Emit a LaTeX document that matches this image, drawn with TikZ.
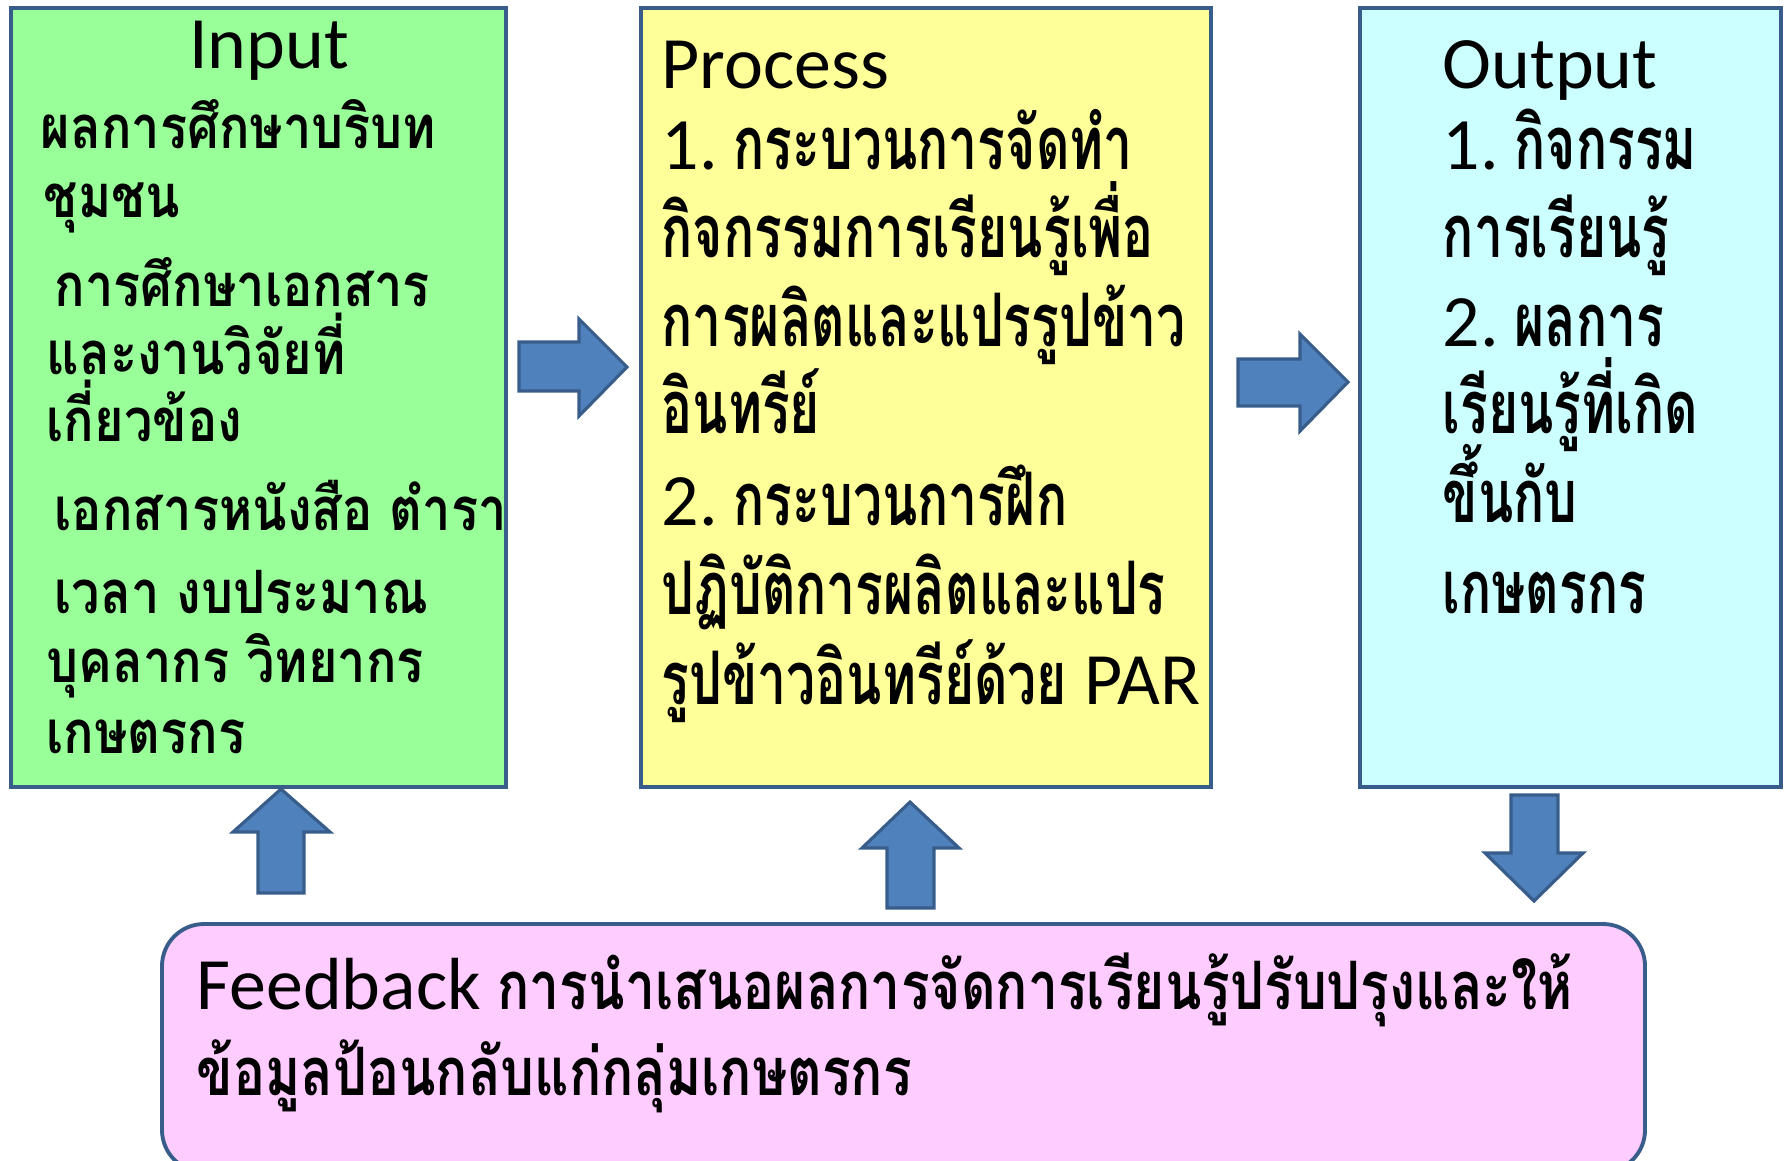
\documentclass[tikz,border=0pt]{standalone}
\usepackage{fontspec}
\setmainfont{Carlito}
\newfontfamily\thai[Script=Thai,FakeStretch=0.845]{Loma}
\newfontfamily\thaic[Script=Thai,FakeStretch=0.7]{Loma}
\newfontfamily\thaif[Script=Thai,FakeStretch=0.8]{Loma}
\definecolor{ingreen}{HTML}{99FF99}
\definecolor{procyellow}{HTML}{FFFF99}
\definecolor{outcyan}{HTML}{CCFFFF}
\definecolor{fbpink}{HTML}{FFCCFF}
\definecolor{boxline}{HTML}{385D8A}
\definecolor{arrowblue}{HTML}{4F81BD}
\tikzset{
  box/.style={draw=boxline, line width=1.1pt},
  blkarrow/.style={draw=boxline, fill=arrowblue, line width=0.9pt, line join=miter},
  title/.style={anchor=base west, inner sep=0pt, font=\fontsize{21}{24}\selectfont},
  body/.style={anchor=base west, inner sep=0pt},
  wide/.style={body, font=\thai\bfseries\fontsize{17}{20}\selectfont},
  narrow/.style={body, font=\thaic\bfseries\fontsize{21}{24}\selectfont},
}
\begin{document}
\begin{tikzpicture}[x=0.01cm, y=-0.01cm]
\useasboundingbox (0,0) rectangle (1788,1160);
% the four boxes
\draw[box, fill=ingreen] (11,8) rectangle (506,787);
\draw[box, fill=procyellow] (641,8) rectangle (1211,787);
\draw[box, fill=outcyan] (1360,8) rectangle (1781,787);
\draw[box, fill=fbpink, rounded corners=0.42cm] (162,924) rectangle (1645,1172);
% block arrows
\draw[blkarrow] (519,342)--(579,342)--(579,319)--(627,367)--(579,416)--(579,391)--(519,391)--cycle;
\draw[blkarrow] (1238,359)--(1300,359)--(1300,334)--(1348,382)--(1300,431)--(1300,406)--(1238,406)--cycle;
\draw[blkarrow] (258,893)--(258,832)--(233,832)--(281,789)--(330,832)--(304,832)--(304,893)--cycle;
\draw[blkarrow] (887,908)--(887,848)--(862,848)--(910,802)--(959,848)--(934,848)--(934,908)--cycle;
\draw[blkarrow] (1511,795)--(1511,853)--(1485,853)--(1534,901)--(1583,853)--(1558,853)--(1558,795)--cycle;
% titles
\node[title, anchor=base] (intitle) at (269,68) {Input};
\node[title] (proctitle) at (661,88) {Process};
\node[title] (outtitle) at (1442,88) {Output};
% input
\foreach \y/\x/\txt [count=\i] in {148/40/ผลการศึกษาบริบท, 217/43/ชุมชน,
    306/54/การศึกษาเอกสาร, 374/46/และงานวิจัยที่, 441/46/เกี่ยวข้อง,
    530/54/เอกสารหนังสือ ตำรา, 613/54/เวลา งบประมาณ, 682/46/บุคลากร วิทยากร,
    753/46/เกษตรกร}
  \node[wide] (in\i) at (\x,\y) {\txt};
% process
\foreach \y/\txt [count=\i] in {169/{\rmfamily\mdseries 1.}\hspace{4.5pt}กระบวนการจัดทำ, 257/กิจกรรมการเรียนรู้เพื่อ,
    346/การผลิตและแปรรูปข้าว, 433/อินทรีย์, 525/{\rmfamily\mdseries 2.}\hspace{4.5pt}กระบวนการฝึก,
    614/ปฏิบัติการผลิตและแปร, 704/รูปข้าวอินทรีย์ด้วย {\rmfamily\mdseries PAR}}
  \node[narrow] (proc\i) at (661,\y) {\txt};
% output
\foreach \y/\txt [count=\i] in {169/{\rmfamily\mdseries 1.}\hspace{4.5pt}กิจกรรม, 257/การเรียนรู้,
    346/{\rmfamily\mdseries 2.}\hspace{4.5pt}ผลการ, 433/เรียนรู้ที่เกิด, 522/ขึ้นกับ, 613/เกษตรกร}
  \node[narrow] (out\i) at (1442,\y) {\txt};
% feedback
\node[body, font=\fontsize{21}{24}\selectfont] (fb1) at (196,1009)
  {Feedback {\thaif\bfseries\fontsize{19}{22}\selectfont การนำเสนอผลการจัดการเรียนรู้ปรับปรุงและให้}};
\node[body, font=\thaif\bfseries\fontsize{19}{22}\selectfont] (fb2) at (196,1095) {ข้อมูลป้อนกลับแก่กลุ่มเกษตรกร};
\end{tikzpicture}
\end{document}
